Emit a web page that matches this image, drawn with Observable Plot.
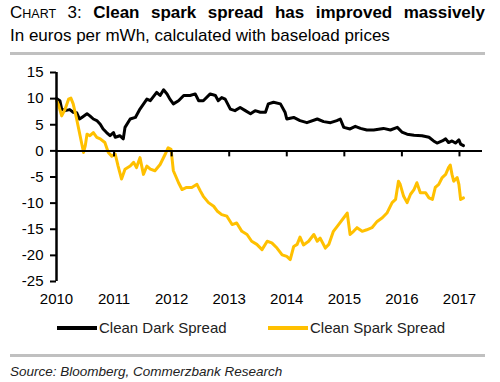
<!DOCTYPE html>
<html><head><meta charset="utf-8">
<script src="https://cdn.jsdelivr.net/npm/d3@7"></script>
<script src="https://cdn.jsdelivr.net/npm/@observablehq/plot@0.6"></script>
<style>
body{margin:0;background:#fff;font-family:"Liberation Sans",Arial,sans-serif;color:#000;}
#wrap{position:relative;width:500px;height:382px;overflow:hidden;background:#fff;}
#title{position:absolute;left:10px;top:3px;width:475px;font-size:17px;line-height:20px;text-align:justify;text-align-last:justify;white-space:nowrap;}
#title .sc{font-size:12.5px;}
#title b{font-weight:bold;}
#sub{position:absolute;left:10px;top:26px;font-size:17px;line-height:20px;}
.rule{position:absolute;left:10px;width:475px;height:3px;background:#c0c0c0;}
#chart{position:absolute;left:0;top:60px;}
.leg{position:absolute;top:318px;font-size:15px;line-height:20px;color:#222;display:flex;align-items:center;}
.leg span.sw{display:inline-block;width:40px;height:4px;margin-right:2px;}
#src{position:absolute;left:10px;top:363px;font-size:13.5px;font-style:italic;line-height:18px;color:#222;}
</style></head><body>
<div id="wrap">
  <div id="title">C<span class="sc">HART</span> 3: <b>Clean</b> <b>spark</b> <b>spread</b> <b>has</b> <b>improved</b> <b>massively</b></div>
  <div id="sub">In euros per mWh, calculated with baseload prices</div>
  <div class="rule" style="top:52px"></div>
  <div id="chart"></div>
  <div class="leg" style="left:57px"><span class="sw" id="sw0"></span><span id="lg0"></span></div>
  <div class="leg" style="left:268px"><span class="sw" id="sw1"></span><span id="lg1"></span></div>
  <div class="rule" style="top:354px"></div>
  <div id="src">Source: Bloomberg, Commerzbank Research</div>
</div>
<script>
const seriesNames = ["Clean Dark Spread", "Clean Spark Spread"];
const seriesColors = ["#000000", "#ffc000"];
const yTicks = [-25, -20, -15, -10, -5, 0, 5, 10, 15];
const xTicks = [2010, 2011, 2012, 2013, 2014, 2015, 2016, 2017];

const darkT = [2010.00,2010.06,2010.09,2010.15,2010.23,2010.29,2010.35,2010.40,2010.44,2010.53,2010.58,2010.64,2010.70,2010.76,2010.81,2010.87,2010.93,2010.99,2011.02,2011.10,2011.16,2011.19,2011.28,2011.37,2011.45,2011.57,2011.63,2011.74,2011.80,2011.86,2011.92,2011.97,2012.03,2012.12,2012.21,2012.32,2012.41,2012.47,2012.55,2012.67,2012.76,2012.81,2012.87,2012.93,2013.02,2013.10,2013.19,2013.28,2013.37,2013.45,2013.54,2013.63,2013.68,2013.77,2013.89,2013.97,2014.00,2014.12,2014.23,2014.35,2014.53,2014.64,2014.76,2014.87,2014.93,2014.99,2015.10,2015.19,2015.28,2015.39,2015.51,2015.68,2015.80,2015.92,2016.00,2016.09,2016.21,2016.35,2016.47,2016.55,2016.61,2016.70,2016.76,2016.81,2016.87,2016.93,2016.99,2017.02,2017.07];
const darkV = [10.0,9.6,8.0,7.7,7.9,7.4,7.3,6.1,6.4,7.1,6.7,6.1,5.8,5.1,4.2,3.5,2.9,3.5,2.6,2.9,2.3,4.5,6.1,6.4,8.0,9.9,9.6,11.2,10.6,11.7,10.9,9.9,9.0,9.6,10.6,10.6,10.9,9.6,9.6,10.9,10.6,9.6,10.2,9.9,8.0,7.7,8.3,7.7,7.1,7.7,7.4,7.4,9.0,9.3,9.0,7.4,6.1,6.4,5.8,5.4,6.1,5.6,5.4,5.8,6.1,4.5,4.2,4.7,4.3,4.0,4.0,4.3,4.0,4.5,3.6,3.2,3.0,2.9,2.6,1.9,1.5,1.9,2.3,1.6,1.9,1.5,2.1,1.3,1.0];

const sparkT = [2010.00,2010.03,2010.09,2010.15,2010.21,2010.25,2010.29,2010.35,2010.41,2010.47,2010.50,2010.53,2010.58,2010.64,2010.70,2010.76,2010.84,2010.90,2010.96,2011.02,2011.07,2011.13,2011.19,2011.28,2011.34,2011.39,2011.45,2011.51,2011.57,2011.63,2011.71,2011.80,2011.89,2011.94,2011.99,2012.03,2012.12,2012.18,2012.26,2012.35,2012.44,2012.50,2012.55,2012.64,2012.73,2012.79,2012.87,2012.96,2013.05,2013.13,2013.22,2013.31,2013.39,2013.48,2013.57,2013.66,2013.74,2013.83,2013.92,2014.00,2014.06,2014.12,2014.18,2014.23,2014.29,2014.38,2014.47,2014.53,2014.58,2014.67,2014.73,2014.81,2014.90,2014.99,2015.05,2015.10,2015.16,2015.22,2015.31,2015.39,2015.48,2015.57,2015.66,2015.74,2015.83,2015.89,2015.94,2015.97,2016.03,2016.09,2016.15,2016.21,2016.26,2016.32,2016.41,2016.47,2016.53,2016.58,2016.64,2016.70,2016.76,2016.81,2016.84,2016.87,2016.90,2016.96,2016.99,2017.02,2017.07];
const sparkV = [9.6,9.0,6.7,8.0,9.9,10.1,9.0,6.1,2.9,-0.3,1.0,3.2,2.9,3.5,2.6,2.3,1.6,-0.3,-1.0,-0.6,-2.9,-5.4,-3.5,-2.9,-2.2,-3.2,-1.3,-4.5,-2.9,-3.5,-3.8,-2.6,-0.6,0.6,0.3,-3.8,-6.1,-7.4,-7.0,-7.0,-6.4,-7.7,-8.7,-9.9,-10.6,-11.5,-12.2,-12.5,-14.1,-13.8,-15.4,-16.0,-17.3,-17.9,-18.9,-17.3,-17.6,-18.6,-19.9,-20.2,-20.8,-18.3,-17.9,-16.5,-18.0,-17.3,-16.0,-17.3,-16.7,-18.6,-17.9,-15.4,-14.1,-12.8,-11.9,-16.0,-15.4,-14.7,-15.4,-15.1,-14.7,-13.5,-12.8,-11.9,-9.9,-9.3,-5.8,-6.4,-8.7,-9.9,-8.3,-7.4,-6.1,-8.0,-8.0,-9.0,-9.3,-7.0,-6.4,-5.1,-4.5,-3.2,-2.7,-4.5,-5.8,-5.1,-6.4,-9.3,-9.0];

const dark = darkT.map((t, i) => ({t, v: darkV[i], s: seriesNames[0]}));
const spark = sparkT.map((t, i) => ({t, v: sparkV[i], s: seriesNames[1]}));

const plot = Plot.plot({
  width: 500,
  height: 250,
  marginTop: 12,
  marginBottom: 29,
  marginLeft: 56,
  marginRight: 18,
  style: {fontFamily: '"Liberation Sans", Arial, sans-serif', fontSize: "15px", color: "#000", background: "#fff"},
  x: {domain: [2010, 2017.4]},
  y: {domain: [-25, 15]},
  marks: [
    Plot.line(dark, {x: "t", y: "v", stroke: seriesColors[0], strokeWidth: 3, strokeLinejoin: "round"}),
    Plot.line(spark, {x: "t", y: "v", stroke: seriesColors[1], strokeWidth: 3, strokeLinejoin: "round"}),
    Plot.ruleY([0], {stroke: "#000", strokeWidth: 2}),
    Plot.ruleX(xTicks.slice(1), {x: d => d, y1: 0, y2: 0, insetBottom: -6, stroke: "#000", strokeWidth: 2}),
    Plot.ruleX([xTicks[0]], {stroke: "#000", strokeWidth: 2.5}),
    Plot.axisY({ticks: yTicks, tickSize: 6, tickPadding: 7, strokeWidth: 2, fontSize: 15, label: null, tickFormat: d => String(d)}),
    Plot.axisX({ticks: xTicks, tickSize: 0, tickPadding: 12, fontSize: 15, label: null, tickFormat: "d"})
  ]
});
document.getElementById("chart").appendChild(plot);

seriesNames.forEach((n, i) => {
  document.getElementById("sw" + i).style.background = seriesColors[i];
  document.getElementById("lg" + i).textContent = n;
});
</script>
</body></html>
